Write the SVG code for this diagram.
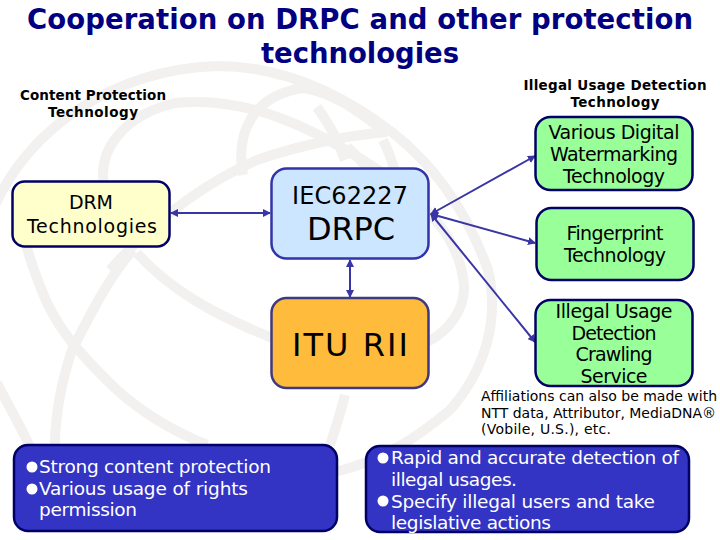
<svg xmlns="http://www.w3.org/2000/svg" width="720" height="540" viewBox="0 0 720 540">
<style>
text{font-family:"DejaVu Sans",Verdana,sans-serif;fill:#000;text-anchor:middle}
.title{font-size:27.5px;font-weight:bold;fill:#000080}
.head{font-size:13.5px;font-weight:bold}
.n{font-size:19px}
.big{font-size:32px}
.mid{font-size:24px}
.w{font-size:18.5px;fill:#fff;text-anchor:start}
.s{font-size:14px;text-anchor:start}
.bg{fill:none;stroke:#f2f1f0;stroke-width:10}
.box{stroke-width:2.5}
.c{fill:none;stroke:#3a35a5;stroke-width:2;marker-start:url(#a);marker-end:url(#a)}
</style>
<defs>
<marker id="a" viewBox="0 0 8 8" refX="7" refY="4" markerWidth="8" markerHeight="8" markerUnits="userSpaceOnUse" orient="auto-start-reverse"><path d="M0 0L8 4L0 8Z" fill="#3a35a5"/></marker>
</defs>
<rect width="720" height="540" fill="#fff"/>
<g id="globe">
<path class="bg" d="M-5 205C30 130 110 70 217 66C290 66 350 100 393 133C440 170 470 220 488 270C500 320 485 370 450 410C420 435 385 460 335 472"/>
<path class="bg" d="M105 190C95 150 125 115 175 103C250 95 320 130 393 180C430 210 460 240 464 285C465 315 440 345 400 350C340 352 290 345 270 337C215 315 170 290 137 253"/>
<path class="bg" d="M243 175C235 130 255 95 303 88C330 92 355 108 382 130"/>
<path class="bg" d="M317 107C330 125 338 140 345 160"/>
<path class="bg" d="M110 270C150 225 200 185 257 160C300 145 350 135 387 132"/>
<path class="bg" d="M347 147C357 155 365 165 372 175"/>
<path class="bg" d="M383 140C388 150 392 160 395 172"/>
<path class="bg" d="M20 200C20 235 33 270 47 303C58 325 70 345 117 390C145 415 175 432 207 445"/>
<path class="bg" d="M133 250C110 275 90 315 72 350C62 380 55 415 55 447"/>
<path class="bg" d="M-3 383C8 405 20 425 30 447"/>
<path class="bg" d="M345 395C340 415 335 430 330 445"/>
</g>
<g id="connectors">
<path class="c" d="M171 213H270"/>
<path class="c" d="M350 260V297"/>
<path class="c" d="M431 214L535 156"/>
<path class="c" d="M431 214L535 243"/>
<path class="c" d="M431 214L535 342"/>
</g>
<text class="title" x="360" y="29" textLength="666">Cooperation on DRPC and other protection</text>
<text class="title" x="360" y="63" textLength="198">technologies</text>
<text class="head" x="93" y="100" textLength="146">Content Protection</text>
<text class="head" x="93" y="117" textLength="90">Technology</text>
<text class="head" x="615" y="90" textLength="183">Illegal Usage Detection</text>
<text class="head" x="615" y="107" textLength="89">Technology</text>
<g id="drm"><rect class="box" x="12.5" y="181.5" width="157" height="65" rx="12" fill="#ffffcc" stroke="#000066"/>
<text class="n" x="91" y="209" textLength="44">DRM</text><text class="n" x="92" y="233" textLength="130">Technologies</text></g>
<g id="iec"><rect class="box" x="271.5" y="168.5" width="157" height="90" rx="15" fill="#cce6ff" stroke="#3333aa"/>
<text class="mid" x="350" y="204" textLength="116">IEC62227</text><text class="big" x="351" y="240" textLength="88">DRPC</text></g>
<g id="itu"><rect class="box" x="271.5" y="298" width="157" height="90" rx="15" fill="#ffbb3c" stroke="#3f3a80"/>
<text class="big" x="350" y="356" textLength="116">ITU RII</text></g>
<g id="watermark"><rect class="box" x="535.5" y="117" width="157" height="73" rx="15" fill="#99ff99" stroke="#000066"/>
<text class="n" x="614" y="139" textLength="131">Various Digital</text><text class="n" x="614" y="161" textLength="128">Watermarking</text><text class="n" x="614" y="183" textLength="102">Technology</text></g>
<g id="fingerprint"><rect class="box" x="536.5" y="208" width="157" height="72" rx="15" fill="#99ff99" stroke="#000066"/>
<text class="n" x="615" y="240" textLength="97">Fingerprint</text><text class="n" x="615" y="262" textLength="102">Technology</text></g>
<g id="crawl"><rect class="box" x="535.5" y="300" width="157" height="86" rx="15" fill="#99ff99" stroke="#000066"/>
<text class="n" x="614" y="318" textLength="117">Illegal Usage</text><text class="n" x="614" y="340" textLength="85">Detection</text><text class="n" x="614" y="361" textLength="77">Crawling</text><text class="n" x="614" y="383" textLength="67">Service</text></g>
<g id="note"><text class="s" x="481" y="401" textLength="236">Affiliations can also be made with</text><text class="s" x="481" y="418" textLength="235">NTT data, Attributor, MediaDNA®</text><text class="s" x="481" y="434" textLength="130">(Vobile, U.S.), etc.</text></g>
<g id="left-list"><rect class="box" x="14" y="445" width="323" height="86" rx="14" fill="#3333c4" stroke="#000066"/>
<circle cx="32" cy="467" r="5.5" fill="#fff"/><circle cx="32" cy="489" r="5.5" fill="#fff"/>
<text class="w" x="39" y="473" textLength="232">Strong content protection</text><text class="w" x="39" y="495" textLength="209">Various usage of rights</text><text class="w" x="39" y="516" textLength="98">permission</text></g>
<g id="right-list"><rect class="box" x="366" y="446" width="323" height="86" rx="14" fill="#3333c4" stroke="#000066"/>
<circle cx="383" cy="458" r="5.5" fill="#fff"/><circle cx="383" cy="501" r="5.5" fill="#fff"/>
<text class="w" x="391" y="464" textLength="288">Rapid and accurate detection of</text><text class="w" x="391" y="486" textLength="126">illegal usages.</text><text class="w" x="391" y="508" textLength="264">Specify illegal users and take</text><text class="w" x="391" y="529" textLength="160">legislative actions</text></g>
</svg>
